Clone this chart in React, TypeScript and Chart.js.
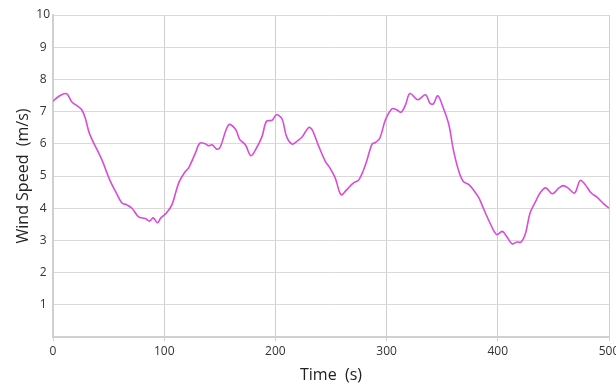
import React, { useEffect, useRef } from "react";
import { Chart, registerables } from "chart.js";

Chart.register(...registerables);

const timeValues: number[] = [
  0, 5, 12, 17, 23, 26, 29, 33, 44, 51, 57, 62, 66, 71, 77, 83, 87, 90, 94, 97,
  102, 107, 113, 119, 122, 128, 132, 137, 140, 143, 147, 150, 158, 164, 168, 173, 178, 183, 188, 192,
  197, 201, 206, 210, 215, 219, 224, 230, 233, 239, 245, 249, 254, 259, 264, 270, 275, 281, 287, 290,
  294, 299, 305, 309, 313, 317, 321, 328, 335, 339, 342, 346, 351, 356, 360, 365, 369, 374, 378, 383,
  387, 393, 399, 404, 408, 413, 417, 421, 425, 429, 434, 438, 443, 449, 455, 459, 463, 469, 474, 478,
  484, 489, 495, 500,
];

const speedValues: number[] = [
  7.32, 7.47, 7.56, 7.3, 7.15, 7.05, 6.8, 6.3, 5.5, 4.88, 4.47, 4.16, 4.11, 4.0, 3.73, 3.68, 3.6, 3.7, 3.55, 3.7,
  3.85, 4.11, 4.78, 5.14, 5.25, 5.71, 6.02, 6.0, 5.94, 5.97, 5.84, 5.87, 6.59, 6.46, 6.13, 5.97, 5.63, 5.87, 6.23, 6.7,
  6.73, 6.9, 6.77, 6.23, 5.99, 6.07, 6.21, 6.51, 6.44, 5.92, 5.45, 5.25, 4.92, 4.42, 4.57, 4.78, 4.88, 5.35, 6.0, 6.04,
  6.18, 6.75, 7.09, 7.06, 6.98, 7.21, 7.56, 7.37, 7.52, 7.26, 7.24, 7.49, 7.11, 6.59, 5.82, 5.14, 4.83, 4.73, 4.57, 4.32,
  4.0, 3.54, 3.18, 3.28, 3.12, 2.89, 2.95, 2.95, 3.23, 3.85, 4.21, 4.47, 4.63, 4.45, 4.63, 4.7, 4.63, 4.47, 4.86, 4.76,
  4.47, 4.35, 4.14, 4.0,
];

const xTitle = "Time  (s)";
const yTitle = "Wind Speed  (m/s)";

export default function App() {
  const ref = useRef<HTMLCanvasElement | null>(null);

  useEffect(() => {
    if (!ref.current) return;
    const points = timeValues.map((t, i) => ({ x: t, y: speedValues[i] }));
    const fontFamily = "'Open Sans', sans-serif";
    const chart = new Chart(ref.current, {
      type: "line",
      data: {
        datasets: [
          {
            data: points,
            borderColor: "#d94bd9",
            borderWidth: 1.6,
            pointRadius: 0,
            tension: 0.35,
            fill: false,
          },
        ],
      },
      options: {
        animation: false,
        responsive: false,
        layout: { padding: { left: 0, right: 7, top: 15, bottom: 0 } },
        plugins: { legend: { display: false }, tooltip: { enabled: false } },
        scales: {
          x: {
            type: "linear",
            min: 0,
            max: 500,
            ticks: {
              stepSize: 100,
              color: "#333333",
              font: { family: fontFamily, size: 12 },
              padding: 3,
              maxRotation: 0,
            },
            grid: { color: "#cfcfcf", lineWidth: 1, tickLength: 4, drawTicks: true },
            border: { display: true, color: "#d0d0d0", width: 2 },
            title: {
              display: true,
              text: xTitle,
              color: "#222222",
              font: { family: fontFamily, size: 16 },
              padding: { top: 0, bottom: 0 },
            },
            afterFit: (scale: any) => {
              scale.height = 48;
              scale.paddingLeft = 0;
              scale.paddingRight = 0;
            },
          },
          y: {
            min: 0,
            max: 10,
            ticks: {
              stepSize: 1,
              color: "#333333",
              font: { family: fontFamily, size: 12 },
              padding: 3,
              crossAlign: "center",
              callback: (v: any) => (v === 0 ? "" : String(v)),
            },
            grid: { color: "#dadada", lineWidth: 1, drawTicks: false },
            border: { display: true, color: "#d0d0d0", width: 2 },
            title: {
              display: true,
              text: yTitle,
              color: "#222222",
              font: { family: fontFamily, size: 16 },
              padding: { top: 14, bottom: 0 },
            },
            afterFit: (scale: any) => {
              scale.width = 53;
              scale.paddingTop = 0;
              scale.paddingBottom = 0;
            },
          },
        },
      },
    } as any);
    return () => chart.destroy();
  }, []);

  return (
    <div style={{ position: "absolute", left: 0, top: 0, width: 616, height: 385, background: "#ffffff" }}>
      <canvas ref={ref} width={616} height={385} style={{ display: "block" }} />
    </div>
  );
}
